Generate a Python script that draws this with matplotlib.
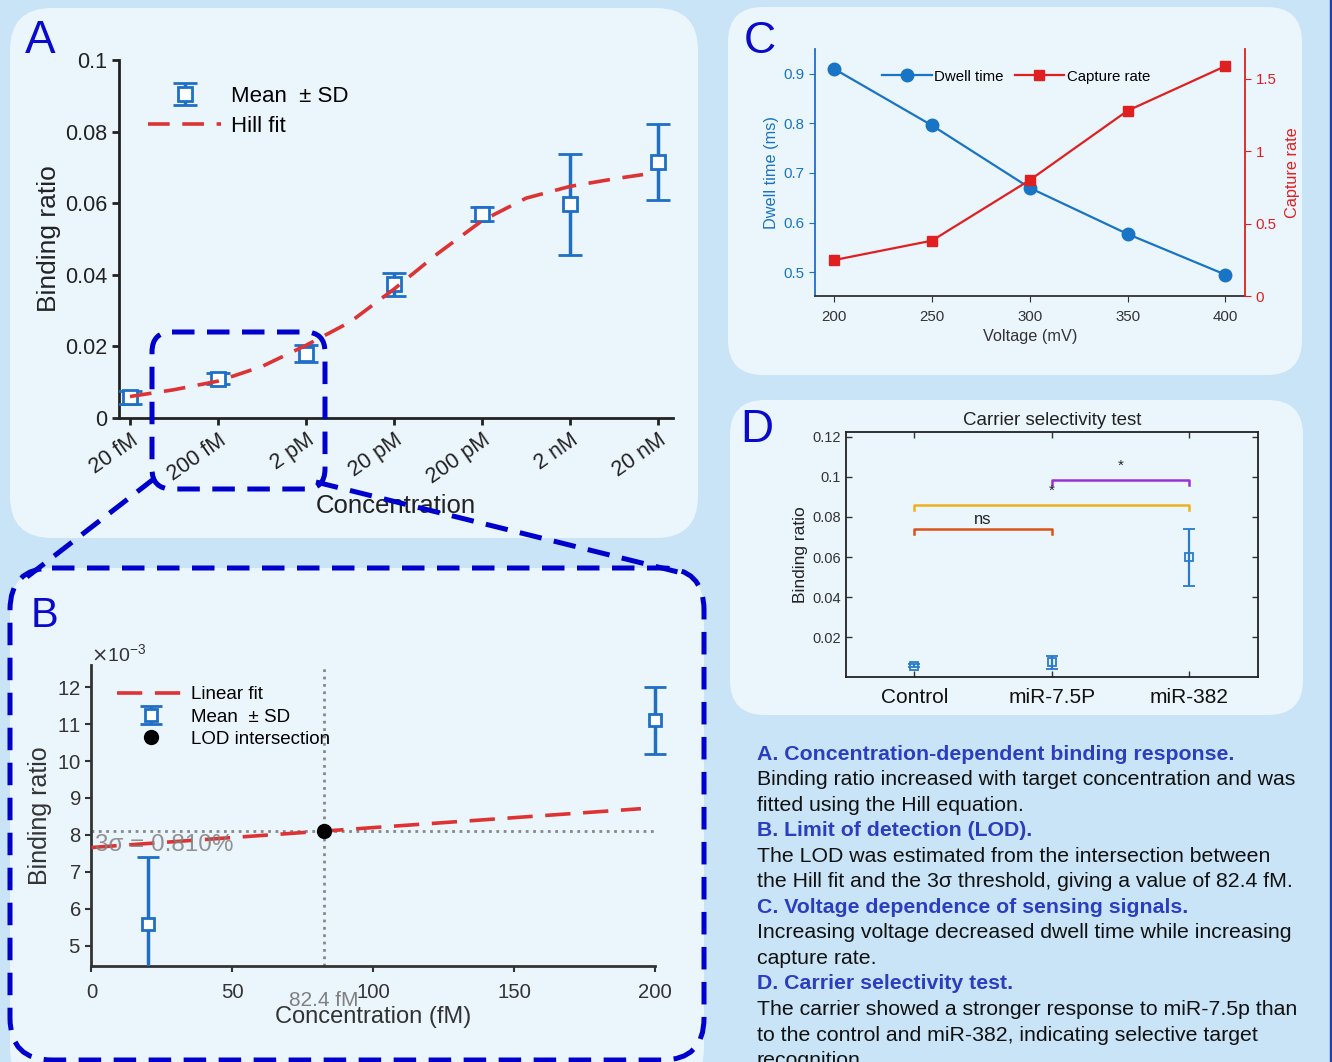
import numpy as np
import matplotlib
matplotlib.use('Agg')
import matplotlib.pyplot as plt
from matplotlib.patches import FancyBboxPatch, Rectangle
from matplotlib.lines import Line2D

plt.rcParams['font.family'] = ['Liberation Sans', 'DejaVu Sans']
plt.rcParams['axes.unicode_minus'] = False

W, H = 1332, 1062

# ---------------- data ----------------
# A: concentration series
conc_labels = ['20 fM', '200 fM', '2 pM', '20 pM', '200 pM', '2 nM', '20 nM']
ratio_mean = [0.0058, 0.0110, 0.0180, 0.0373, 0.0570, 0.0597, 0.0716]
ratio_sd = [0.0018, 0.0015, 0.0023, 0.0033, 0.0020, 0.0141, 0.0106]
hill_x = [0, 0.5, 1, 1.5, 2, 2.5, 3, 3.5, 4, 4.5, 5, 5.5, 5.83]
hill_y = [0.0060, 0.0079, 0.0103, 0.0144, 0.0203, 0.0268, 0.0360,
          0.0460, 0.0551, 0.0614, 0.0647, 0.0668, 0.0680]

# B: limit of detection
lod_conc = [20, 200]
lod_mean = [5.6e-3, 11.1e-3]
lod_sd = [1.8e-3, 0.9e-3]
lin_x = [0, 195]
lin_y = [7.66e-3, 8.71e-3]
threshold = 8.10e-3
lod = 82.4

# C: voltage dependence
voltage = [200, 250, 300, 350, 400]
dwell = [0.910, 0.796, 0.670, 0.577, 0.495]
capture = [0.248, 0.382, 0.800, 1.279, 1.587]

# D: selectivity
groups = ['Control', 'miR-7.5P', 'miR-382']
sel_mean = [0.0057, 0.0074, 0.0599]
sel_sd = [0.0008, 0.0033, 0.0142]
br_from = [1, 1, 2]
br_to = [2, 3, 3]
br_height = [0.0741, 0.0860, 0.0985]
br_text = ['ns', '*', '*']
br_color = ['#D95319', '#EDB120', '#9B30D9']

# caption
caption = [
    ('A. Concentration-dependent binding response.', True),
    ('Binding ratio increased with target concentration and was', False),
    ('fitted using the Hill equation.', False),
    ('B. Limit of detection (LOD).', True),
    ('The LOD was estimated from the intersection between', False),
    ('the Hill fit and the 3σ threshold, giving a value of 82.4 fM.', False),
    ('C. Voltage dependence of sensing signals.', True),
    ('Increasing voltage decreased dwell time while increasing', False),
    ('capture rate.', False),
    ('D. Carrier selectivity test.', True),
    ('The carrier showed a stronger response to miR-7.5p than', False),
    ('to the control and miR-382, indicating selective target', False),
    ('recognition.', False),
]

BG = '#C9E4F6'
PANEL = '#EBF5FC'
ZOOM = '#0000CD'
LETTER = '#0A0ACC'
EB = '#1F6FC5'
RED = '#DD3333'


def box(x0, y0, x1, y1):
    return [x0 / W, 1 - y1 / H, (x1 - x0) / W, (y1 - y0) / H]


fig = plt.figure(figsize=(W / 100, H / 100), dpi=100)
fig.patch.set_facecolor(BG)

bg = fig.add_axes([0, 0, 1, 1], zorder=0)
bg.set_xlim(0, W)
bg.set_ylim(H, 0)
bg.axis('off')


def rbox(ax, x0, y0, x1, y1, r, **kw):
    p = FancyBboxPatch((x0, y0), x1 - x0, y1 - y0,
                       boxstyle='round,pad=0,rounding_size=%g' % r, **kw)
    ax.add_patch(p)
    return p


rbox(bg, 10, 8, 698, 538, 42, fc=PANEL, ec='none')
rbox(bg, 728, 7, 1302, 375, 35, fc=PANEL, ec='none')
rbox(bg, 730, 400, 1303, 715, 35, fc=PANEL, ec='none')
rbox(bg, 10, 568, 704, 1090, 42, fc=PANEL, ec='none')
bg.add_line(Line2D([1330.5, 1330.5], [0, H], color='#2244AA', lw=2.5))

# panel letters
for lab, x, y, fs in [('A', 40, 53, 33), ('B', 45, 627, 30), ('C', 760, 53, 32), ('D', 757, 442, 33)]:
    bg.text(x, y, lab, fontsize=fs, color=LETTER, ha='center', va='baseline')

# caption text
for i, (line, bold) in enumerate(caption):
    bg.text(757, 754 + i * 25.55, line, fontsize=15.3,
            fontweight='bold' if bold else 'normal',
            color='#2B3EC0' if bold else '#111111', ha='left', va='center')

# ---------------- Panel A ----------------
axA = fig.add_axes(box(119, 60, 673, 418), zorder=2)
axA.set_facecolor('none')
xa = np.arange(len(conc_labels))
ebA = axA.errorbar(xa, ratio_mean, yerr=ratio_sd, fmt='s', color=EB, mfc='white',
                   mec=EB, ms=9.5, mew=2, elinewidth=2.5, capsize=8.5, capthick=2.5,
                   label='Mean  ± SD', zorder=3)
hillA, = axA.plot(hill_x, hill_y, color=RED, lw=2.6, dashes=(6, 3.5), label='Hill fit', zorder=4)
axA.set_xlim(-0.125, 6.17)
axA.set_ylim(0, 0.1)
axA.set_yticks([0, 0.02, 0.04, 0.06, 0.08, 0.1])
axA.set_yticklabels(['0', '0.02', '0.04', '0.06', '0.08', '0.1'])
axA.set_xticks(xa)
axA.set_xticklabels(conc_labels, rotation=35, ha='right', va='top', rotation_mode='anchor')
for s in ['top', 'right']:
    axA.spines[s].set_visible(False)
for s in ['left', 'bottom']:
    axA.spines[s].set_linewidth(2)
    axA.spines[s].set_color('#222222')
axA.tick_params(labelsize=15.5, width=2, length=5, colors='#222222')
axA.set_ylabel('Binding ratio', fontsize=19, color='#222222', labelpad=3)
axA.set_xlabel('Concentration', fontsize=18.5, color='#222222', labelpad=4)
axA.legend([ebA, hillA], ['Mean  ± SD', 'Hill fit'], loc='center left',
           bbox_to_anchor=(148 / W, 1 - 111.5 / H), bbox_transform=fig.transFigure,
           frameon=False, fontsize=16, handlelength=3.3, handletextpad=0.45,
           borderpad=0, borderaxespad=0, labelspacing=0.42)

# ---------------- Panel B ----------------
axB = fig.add_axes(box(91.4, 665, 655, 965.7), zorder=2)
axB.set_facecolor('none')
axB.axhline(threshold, color='#888888', lw=2, ls=':', zorder=1)
axB.axvline(lod, color='#888888', lw=2, ls=':', zorder=1)
linB, = axB.plot(lin_x, lin_y, color=RED, lw=2.6, dashes=(7, 3.5), label='Linear fit', zorder=3)
ebB = axB.errorbar(lod_conc, lod_mean, yerr=lod_sd, fmt='s', color=EB, mfc='white',
                   mec=EB, ms=9, mew=2, elinewidth=2.5, capsize=8, capthick=2.5,
                   label='Mean  ± SD', zorder=3)
# clip only at the bottom of the axes so the 200 fM point stays whole
clip = Rectangle((0, 0), 1.2, 1.2, transform=axB.transAxes)
for art in [ebB[0], *ebB[1], *ebB[2]]:
    art.set_clip_path(clip)
dotB, = axB.plot([lod], [threshold], 'o', color='black', ms=10, zorder=5,
                 label='LOD intersection')
axB.text(1.3, 7.72e-3, '3σ = 0.810%', fontsize=17.5, color='#808080', alpha=0.85,
         ha='left', va='center', zorder=6)
axB.text(lod, -0.117, '%.1f fM' % lod, transform=axB.get_xaxis_transform(),
         fontsize=15, color='#808080', ha='center', va='center')
axB.set_xlim(0, 200)
axB.set_ylim(4.46e-3, 12.6e-3)
axB.set_xticks([0, 50, 100, 150, 200])
axB.set_yticks(np.arange(5, 13) * 1e-3)
axB.ticklabel_format(axis='y', style='sci', scilimits=(-3, -3), useMathText=True)
axB.yaxis.get_offset_text().set_fontsize(14)
axB.yaxis.get_offset_text().set_color('#333333')
for s in ['top', 'right']:
    axB.spines[s].set_visible(False)
for s in ['left', 'bottom']:
    axB.spines[s].set_linewidth(2)
    axB.spines[s].set_color('#333333')
axB.tick_params(labelsize=14.6, width=1.5, length=4, colors='#333333')
axB.tick_params(axis='x', pad=8.5)
axB.set_ylabel('Binding ratio', fontsize=18, color='#333333', labelpad=4)
axB.set_xlabel('Concentration (fM)', fontsize=17, color='#333333', labelpad=3)
axB.legend([linB, ebB, dotB], ['Linear fit', 'Mean  ± SD', 'LOD intersection'],
           loc='center left', bbox_to_anchor=(116.7 / W, 1 - 717 / H),
           bbox_transform=fig.transFigure, frameon=False, fontsize=13.5,
           handlelength=3.67, handletextpad=0.3, borderpad=0, borderaxespad=0,
           labelspacing=0.28)

# ---------------- Panel C ----------------
BLUE_C = '#1874C4'
RED_C = '#E02020'
axC = fig.add_axes(box(814.5, 49, 1245, 296), zorder=2)
axC.set_facecolor('none')
l1, = axC.plot(voltage, dwell, '-o', color=BLUE_C, lw=1.6, ms=9, label='Dwell time')
axC2 = axC.twinx()
axC2.set_position(box(814.5, 49, 1245, 296))
l2, = axC2.plot(voltage, capture, '-s', color=RED_C, lw=1.6, ms=7, label='Capture rate')
axC.set_xlim(190, 410)
axC.set_ylim(0.452, 0.95)
axC2.set_ylim(0, 1.705)
axC.set_xticks(voltage)
axC.set_yticks([0.5, 0.6, 0.7, 0.8, 0.9])
axC2.set_yticks([0, 0.5, 1, 1.5])
axC2.set_yticklabels(['0', '0.5', '1', '1.5'])
for a in [axC, axC2]:
    a.spines['top'].set_visible(False)
axC.spines['right'].set_visible(False)
axC.spines['left'].set_color(BLUE_C)
axC.spines['bottom'].set_color('#333333')
axC2.spines['left'].set_visible(False)
axC2.spines['bottom'].set_visible(False)
axC2.spines['right'].set_color(RED_C)
for a in [axC, axC2]:
    for s in a.spines.values():
        s.set_linewidth(1.3)
axC.tick_params(axis='y', colors=BLUE_C, labelsize=10.8, length=4)
axC.tick_params(axis='x', colors='#333333', labelsize=10.8, length=4, pad=6)
axC2.tick_params(axis='y', colors=RED_C, labelsize=10.8, length=4)
axC.set_ylabel('Dwell time (ms)', fontsize=11.7, color=BLUE_C, labelpad=3)
axC2.set_ylabel('Capture rate', fontsize=11.7, color=RED_C, labelpad=6)
axC.set_xlabel('Voltage (mV)', fontsize=11.7, color='#333333', labelpad=4)
axC.legend([l1, l2], ['Dwell time', 'Capture rate'], ncol=2, loc='center left',
           bbox_to_anchor=(882 / W, 1 - 76.7 / H), bbox_transform=fig.transFigure,
           frameon=False, fontsize=10.8, handlelength=3.3, handletextpad=0.2,
           columnspacing=0.7, borderpad=0, borderaxespad=0)

# ---------------- Panel D ----------------
axD = fig.add_axes(box(845.7, 431.7, 1257.9, 677.3), zorder=2)
axD.set_facecolor('none')
xd = np.arange(1, len(groups) + 1)
axD.errorbar(xd, sel_mean, yerr=sel_sd, fmt='s', color='#2A7BC8', mfc='none',
             mec='#2A7BC8', ms=6, mew=1.3, elinewidth=1.6, capsize=4, capthick=1.6)
for a, b, h, t, c in zip(br_from, br_to, br_height, br_text, br_color):
    axD.plot([a, a, b, b], [h - 0.0025, h, h, h - 0.0025], color=c, lw=1.8)
    off = 0.0046 if t == 'ns' else 0.0068
    axD.text((a + b) / 2, h + off, t, ha='center', va='center',
             fontsize=12 if t == 'ns' else 11, color='#222222')
axD.set_xlim(0.5, 3.5)
axD.set_ylim(0, 0.1225)
axD.set_xticks(xd)
axD.set_xticklabels(groups, fontsize=15, color='#111111')
axD.set_yticks([0.02, 0.04, 0.06, 0.08, 0.1, 0.12])
axD.set_yticklabels(['0.02', '0.04', '0.06', '0.08', '0.1', '0.12'])
axD.tick_params(direction='in', top=True, right=True, length=4, width=1, colors='#333333')
axD.tick_params(axis='y', labelsize=10.5)
axD.tick_params(axis='x', pad=8, labelcolor='#111111')
for s in axD.spines.values():
    s.set_linewidth(1.3)
    s.set_color('#222222')
axD.set_title('Carrier selectivity test', fontsize=13.5, color='#222222', pad=4.5)
axD.set_ylabel('Binding ratio', fontsize=12.5, color='#222222', labelpad=3)

# ---------------- zoom indicators (overlay) ----------------
ov = fig.add_axes([0, 0, 1, 1], zorder=10)
ov.set_xlim(0, W)
ov.set_ylim(H, 0)
ov.axis('off')
ov.patch.set_alpha(0)
dash = (0, (4.5, 2.5))
rbox(ov, 152, 332, 325, 489, 20, fc='none', ec=ZOOM, lw=3.6, ls=dash)
rbox(ov, 10, 568, 704, 1060, 42, fc='none', ec=ZOOM, lw=3.6, ls=dash)
ov.plot([155, 27], [478, 577], color=ZOOM, lw=3.6, ls=dash)
ov.plot([316, 682], [482, 573], color=ZOOM, lw=3.6, ls=dash)

fig.savefig('out.png', dpi=100, facecolor=fig.get_facecolor())
